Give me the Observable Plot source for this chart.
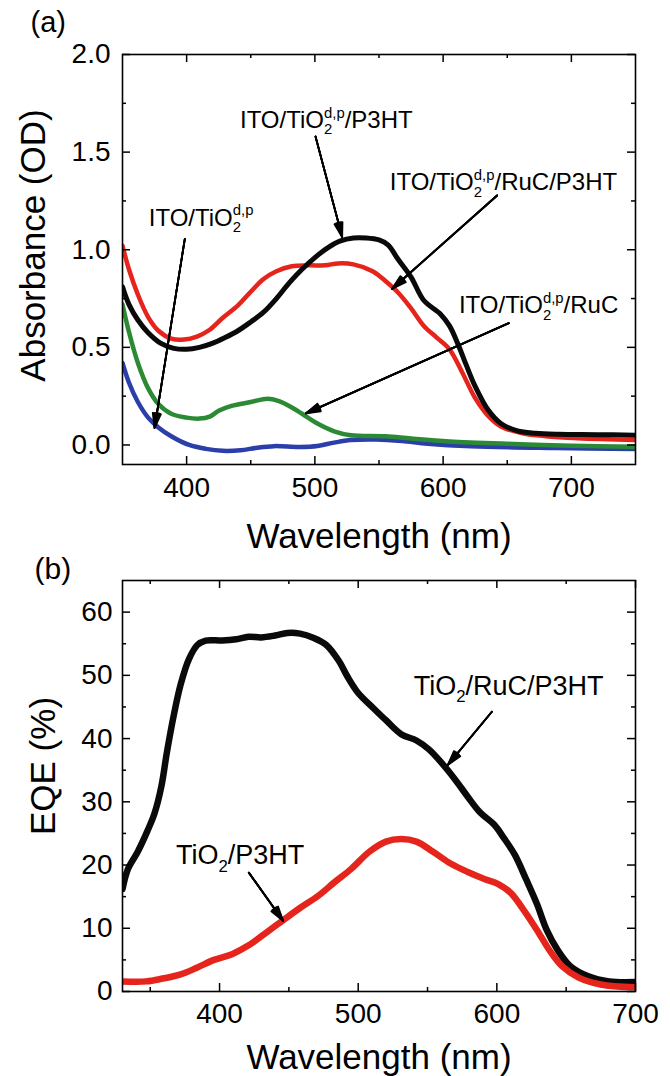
<!DOCTYPE html>
<html><head><meta charset="utf-8">
<script src="https://cdn.jsdelivr.net/npm/d3@7"></script>
<script src="https://cdn.jsdelivr.net/npm/@observablehq/plot@0.6"></script>
<style>
html,body{margin:0;padding:0;background:#fff;}
#chart{width:670px;height:1076px;position:relative;overflow:hidden;background:#fff;}
#chart svg{display:block;}
</style></head><body><div id="chart"></div>
<script>
// ---------- Panel (a): absorbance ----------
const wlBlackA  = [350,355,362,370,380,390,400,410,420,430,440,450,460,470,480,490,500,510,520,530,540,550,557,565,575,585,598,605,612,618,625,635,645,658,672,690,720,750];
const absBlackA = [0.81,0.72,0.64,0.575,0.52,0.495,0.49,0.50,0.52,0.55,0.585,0.63,0.68,0.75,0.83,0.90,0.96,1.01,1.045,1.06,1.06,1.05,1.025,0.95,0.86,0.74,0.67,0.61,0.51,0.41,0.30,0.18,0.11,0.072,0.06,0.055,0.053,0.05];
const wlRedA    = [350,355,362,370,378,388,398,408,418,428,440,450,460,470,482,495,508,518,530,545,555,565,575,585,595,605,615,625,635,645,662,680,705,750];
const absRedA   = [1.02,0.90,0.77,0.655,0.585,0.545,0.54,0.555,0.59,0.65,0.715,0.785,0.85,0.89,0.915,0.92,0.92,0.93,0.925,0.89,0.84,0.78,0.70,0.61,0.55,0.49,0.37,0.24,0.15,0.095,0.06,0.045,0.035,0.026];
const wlGreenA  = [350,355,362,370,378,388,400,410,418,425,435,450,463,472,480,490,502,515,528,555,575,605,655,700,750];
const absGreenA = [0.72,0.58,0.42,0.29,0.21,0.16,0.14,0.135,0.145,0.175,0.20,0.22,0.237,0.225,0.20,0.16,0.11,0.07,0.05,0.045,0.033,0.018,0.005,-0.004,-0.009];
const wlBlueA   = [350,355,362,370,378,388,402,415,428,442,455,468,488,502,515,528,548,568,588,622,688,750];
const absBlueA  = [0.42,0.32,0.22,0.14,0.09,0.045,0.0,-0.02,-0.03,-0.027,-0.014,-0.006,-0.01,-0.005,0.012,0.025,0.028,0.02,0.006,-0.007,-0.016,-0.021];

const annLabelsA = ["ITO/TiO_{2}^{d,p}/P3HT", "ITO/TiO_{2}^{d,p}/RuC/P3HT", "ITO/TiO_{2}^{d,p}", "ITO/TiO_{2}^{d,p}/RuC"];
const annXA = [441.6, 558.4, 370.5, 612.3];
const annYA = [1.625, 1.307, 1.124, 0.675];
const arrFromXA = [500.5, 642.1, 398.6, 651.2];
const arrFromYA = [1.58, 1.278, 1.056, 0.624];
const arrToXA   = [521.3, 560.3, 375.0, 493.0];
const arrToYA   = [1.065, 0.80, 0.088, 0.162];

const xMajorA = [400, 500, 600, 700];
const xMinorA = [450, 550, 650];
const yMajorA = [0, 0.5, 1.0, 1.5, 2.0];
const yMinorA = [0.25, 0.75, 1.25, 1.75];

// ---------- Panel (b): EQE ----------
const wlBlackB  = [330,334,341,348,353,358,362,367,372,378,384,390,402,412,421,430,440,449,458,468,477,486,492,500,511,520,531,542,551,560,570,579,588,598,605,613,621,629,636,644,653,666,681,700];
const eqeBlackB = [16.2,19.4,22.1,25.4,28.1,32.4,37.8,43.7,48.6,52.6,54.8,55.5,55.5,55.7,56.1,56.0,56.3,56.7,56.6,55.9,54.8,52.3,49.9,47.2,44.8,42.9,40.7,39.7,38.3,36.2,33.5,30.8,28.3,26.4,24.3,21.6,17.8,13.8,9.7,6.5,4.0,2.4,1.6,1.5];
const wlRedB    = [330,347,359,372,384,396,409,421,433,446,458,471,483,495,508,520,531,542,554,567,579,591,601,610,619,629,638,647,659,675,700];
const eqeRedB   = [1.6,1.6,2.05,2.7,3.8,5.0,5.9,7.3,9.2,11.3,13.2,15.1,17.3,19.4,22.1,23.7,24.1,23.7,22.1,20.2,18.9,17.8,17.0,15.6,13.0,9.7,6.5,4.0,2.2,1.1,0.65];

const annLabelsB = ["TiO_{2}/RuC/P3HT", "TiO_{2}/P3HT"];
const annXB = [540, 368.6];
const annYB = [46.96, 20.15];
const arrFromXB = [596.4, 421.1];
const arrFromYB = [44.25, 18.8];
const arrToXB   = [564.7, 445.8];
const arrToYB   = [35.85, 11.2];

const xMajorB = [400, 500, 600, 700];
const xMinorB = [350, 450, 550, 650];
const yMajorB = [0, 10, 20, 30, 40, 50, 60];
const yMinorB = [5, 15, 25, 35, 45, 55];

const xTitle = "Wavelength (nm)";
const yTitleA = "Absorbance (OD)";
const yTitleB = "EQE (%)";

// ---------- helpers ----------
const FONT = "'Liberation Sans', Arial, Helvetica, sans-serif";
const zip = (xs, ys) => xs.map((x, i) => ({x, y: ys[i]}));
const zipArrows = (x1, y1, x2, y2) => x1.map((_, i) => ({x1: x1[i], y1: y1[i], x2: x2[i], y2: y2[i]}));
const zipLabels = (t, xs, ys) => t.map((s, i) => ({text: s, x: xs[i], y: ys[i]}));

function tickMarks(xMaj, xMin, yMaj, yMin, fh, fw) {
  const m = [];
  for (const [arr, len] of [[xMaj, 8], [xMin, 4]]) {
    m.push(Plot.ruleX(arr, {insetTop: fh - len, strokeWidth: 1.5}));
    m.push(Plot.ruleX(arr, {insetBottom: fh - len, strokeWidth: 1.5}));
  }
  for (const [arr, len] of [[yMaj, 8], [yMin, 4]]) {
    m.push(Plot.ruleY(arr, {insetRight: fw - len, strokeWidth: 1.5}));
    m.push(Plot.ruleY(arr, {insetLeft: fw - len, strokeWidth: 1.5}));
  }
  return m;
}
function arrows(data) {
  return [32, 24, 16, 8].map(a => Plot.arrow(data, {x1: "x1", y1: "y1", x2: "x2", y2: "y2", headAngle: a, headLength: 12.5, strokeWidth: 1.8, stroke: "black"}));
}
function curve(xs, ys, color, w) {
  return Plot.line(zip(xs, ys), {x: "x", y: "y", stroke: color, strokeWidth: w, curve: "catmull-rom", clip: true});
}

const RED = "#e5241c", BLACK = "#0a0a0a", GREEN = "#2c8a34", BLUE = "#2b3eaa";

const plotA = Plot.plot({
  width: 670, height: 545,
  marginLeft: 122, marginRight: 35, marginTop: 54, marginBottom: 81,
  x: {domain: [350, 750]},
  y: {domain: [-0.1, 2.0]},
  style: {fontFamily: FONT, background: "white", color: "black", overflow: "visible"},
  marks: [
    curve(wlBlueA, absBlueA, BLUE, 4.5),
    curve(wlGreenA, absGreenA, GREEN, 4.5),
    curve(wlRedA, absRedA, RED, 4.5),
    curve(wlBlackA, absBlackA, BLACK, 5),
    ...tickMarks(xMajorA, xMinorA, yMajorA, yMinorA, 410, 513),
    Plot.frame({stroke: "black", strokeWidth: 1.6}),
    Plot.axisX(xMajorA, {tickSize: 0, tickPadding: 13, fontSize: 28, label: null}),
    Plot.axisY(yMajorA, {tickSize: 0, tickPadding: 12, fontSize: 28, tickFormat: d3.format(".1f"), label: null}),
    ...arrows(zipArrows(arrFromXA, arrFromYA, arrToXA, arrToYA)),
    Plot.text(zipLabels(annLabelsA, annXA, annYA), {x: "x", y: "y", text: "text", textAnchor: "start", lineAnchor: "bottom", fontSize: 24}),
    Plot.text([xTitle], {frameAnchor: "bottom", textAnchor: "middle", lineAnchor: "bottom", dy: 83, fontSize: 35}),
    Plot.text([yTitleA], {frameAnchor: "left", textAnchor: "middle", lineAnchor: "middle", rotate: -90, dx: -89, dy: -14, fontSize: 35}),
    Plot.text(["(a)"], {frameAnchor: "top-left", textAnchor: "start", lineAnchor: "bottom", dx: -92, dy: -23, fontSize: 29})
  ]
});

const plotB = Plot.plot({
  width: 670, height: 531,
  marginLeft: 122, marginRight: 35, marginTop: 35, marginBottom: 85,
  x: {domain: [330, 700]},
  y: {domain: [0, 65]},
  style: {fontFamily: FONT, background: "white", color: "black", overflow: "visible"},
  marks: [
    curve(wlBlackB, eqeBlackB, BLACK, 6.5),
    curve(wlRedB, eqeRedB, RED, 6.5),
    ...tickMarks(xMajorB, xMinorB, yMajorB, yMinorB, 411, 513),
    Plot.frame({stroke: "black", strokeWidth: 1.6}),
    Plot.axisX(xMajorB, {tickSize: 0, tickPadding: 12, fontSize: 28, label: null}),
    Plot.axisY(yMajorB, {tickSize: 0, tickPadding: 10, fontSize: 28, label: null}),
    ...arrows(zipArrows(arrFromXB, arrFromYB, arrToXB, arrToYB)),
    Plot.text(zipLabels(annLabelsB, annXB, annYB), {x: "x", y: "y", text: "text", textAnchor: "start", lineAnchor: "bottom", fontSize: 27}),
    Plot.text([xTitle], {frameAnchor: "bottom", textAnchor: "middle", lineAnchor: "bottom", dy: 77, fontSize: 35}),
    Plot.text([yTitleB], {frameAnchor: "left", textAnchor: "middle", lineAnchor: "middle", rotate: -90, dx: -79, dy: -20, fontSize: 35}),
    Plot.text(["(b)"], {frameAnchor: "top-left", textAnchor: "start", lineAnchor: "bottom", dx: -88, dy: -2, fontSize: 30})
  ]
});

const host = document.getElementById("chart");
host.append(plotA, plotB);

// Render "_{sub}^{sup}" markers as real sub/superscript tspans.
function richify(svg) {
  const ns = "http://www.w3.org/2000/svg";
  svg.querySelectorAll("text").forEach(el => {
    const t = el.textContent;
    const m = t.match(/^(.*?)_\{(.*?)\}(?:\^\{(.*?)\})?(.*)$/);
    if (!m) return;
    const fs = parseFloat(getComputedStyle(el).fontSize) || 24;
    while (el.firstChild) el.removeChild(el.firstChild);
    const add = (s, attrs = {}) => {
      const ts = document.createElementNS(ns, "tspan");
      ts.textContent = s;
      for (const k in attrs) ts.setAttribute(k, attrs[k]);
      el.appendChild(ts);
      return ts;
    };
    add(m[1]);
    const sub = add(m[2], {"font-size": 0.62 * fs, dy: 0.28 * fs});
    const subLen = sub.getComputedTextLength();
    if (m[3]) {
      const sup = add(m[3], {"font-size": 0.62 * fs, dx: -subLen, dy: -0.70 * fs});
      const supLen = sup.getComputedTextLength();
      add(m[4], {dy: 0.42 * fs, dx: Math.max(0, subLen - supLen)});
    } else {
      add(m[4], {dy: -0.28 * fs});
    }
  });
}
richify(plotA);
richify(plotB);
</script></body></html>
